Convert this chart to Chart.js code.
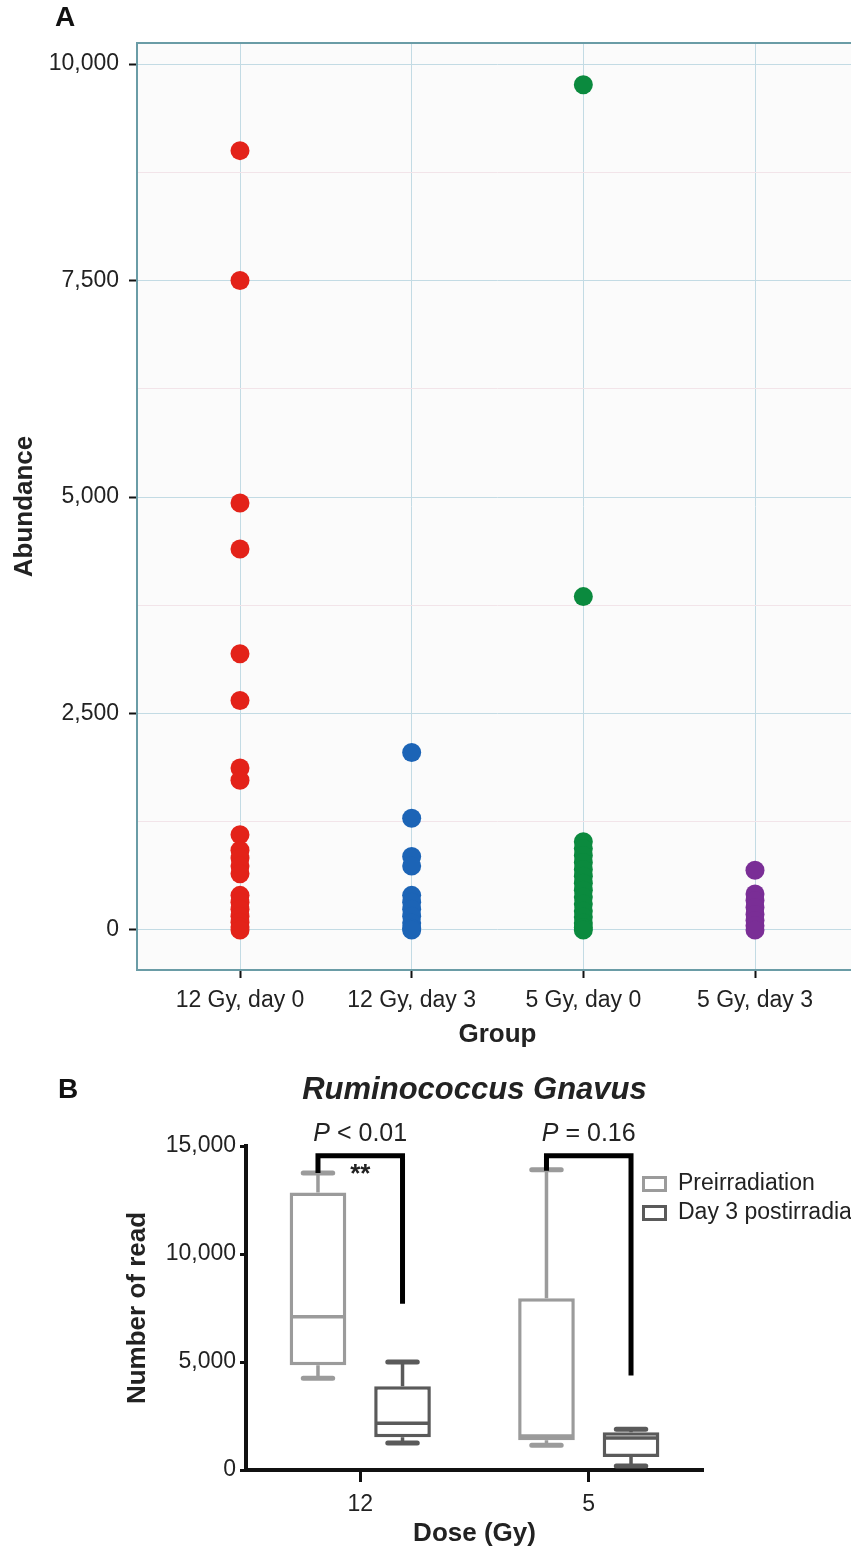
<!DOCTYPE html>
<html>
<head>
<meta charset="utf-8">
<title>Abundance by group / Ruminococcus Gnavus</title>
<script src="https://cdn.jsdelivr.net/npm/chart.js@4.4.1/dist/chart.umd.min.js"></script>
<style>
    html, body { margin: 0; padding: 0; background: #fff; overflow: hidden; }
    #page { position: relative; width: 851px; height: 1552px; overflow: hidden; background: #fff; }
    #panelA { position: absolute; left: 0; top: 0; }
    #panelB { position: absolute; left: 0; top: 1060px; }
</style>
</head>
<body>
<div id="page">
    <canvas id="panelA" width="880" height="1060"></canvas>
    <canvas id="panelB" width="851" height="492"></canvas>
</div>
<script>
// Panel A: abundance per group
const groups = ['12 Gy, day 0', '12 Gy, day 3', '5 Gy, day 0', '5 Gy, day 3'];
const abundance12Day0 = [9000, 7500, 4930, 4400, 3190, 2650, 1870, 1730, 1100, 920, 830, 740, 650, 400, 320, 240, 160, 90, 35, 0];
const abundance12Day3 = [2050, 1290, 850, 740, 400, 320, 240, 160, 80, 20, 0];
const abundance5Day0 = [9760, 3850, 1020, 940, 860, 780, 700, 620, 540, 460, 380, 300, 220, 150, 80, 30, 0];
const abundance5Day3 = [690, 415, 340, 260, 180, 110, 50, 0];
const abundanceTicks = [0, 2500, 5000, 7500, 10000];
const abundanceMinorTicks = [1250, 3750, 6250, 8750];

// Panel B: Ruminococcus gnavus read counts (box plots)
const doses = ['12', '5'];
const preMin = [4250, 1150];
const preQ1 = [4850, 1380];
const preMedian = [7100, 1570];
const preQ3 = [12850, 7950];
const preMax = [13750, 13900];
const postMin = [1250, 190];
const postQ1 = [1520, 600];
const postMedian = [2170, 1480];
const postQ3 = [3880, 1750];
const postMax = [5000, 1890];
const readTicks = [0, 5000, 10000, 15000];
const pLabels = [['P', ' < 0.01'], ['P', ' = 0.16']];
const stars = ['**', ''];
const bracketTop = [14550, 14550];
const bracketLeftEnd = [13750, 13850];
const bracketRightEnd = [7700, 4380];

Chart.defaults.font.family = '"Liberation Sans", Arial, Helvetica, sans-serif';
Chart.defaults.color = '#222';
Chart.defaults.animation = false;

const FONT = '"Liberation Sans", Arial, Helvetica, sans-serif';
const groupColors = ['#e32219', '#1c64b6', '#0b8a3e', '#7a2e96'];

// letter in the top-left corner of a panel
function panelLetter(letter, x, y) {
    return {
        id: 'panelLetter' + letter,
        afterDraw(chart) {
            const ctx = chart.ctx;
            ctx.save();
            ctx.font = 'bold 28px ' + FONT;
            ctx.fillStyle = '#111';
            ctx.textAlign = 'left';
            ctx.textBaseline = 'middle';
            ctx.fillText(letter, x, y);
            ctx.restore();
        }
    };
}

function renderPanelA() {
    const plotFrame = {
        id: 'plotFrame',
        beforeDraw(chart) {
            const {ctx, chartArea: a} = chart;
            ctx.save();
            ctx.fillStyle = '#fbfbfb';
            ctx.fillRect(a.left, a.top, a.right - a.left, a.bottom - a.top);
            ctx.restore();
        },
        afterDraw(chart) {
            const {ctx, chartArea: a} = chart;
            ctx.save();
            ctx.strokeStyle = '#6a9ca6';
            ctx.lineWidth = 2;
            ctx.strokeRect(a.left, a.top, a.right - a.left, a.bottom - a.top);
            ctx.restore();
        }
    };

    const series = [abundance12Day0, abundance12Day3, abundance5Day0, abundance5Day3];
    const isMajor = v => abundanceTicks.includes(v);

    new Chart(document.getElementById('panelA'), {
        type: 'scatter',
        data: {
            datasets: series.map((vals, i) => ({
                label: groups[i],
                data: vals.map(v => ({x: i, y: v})),
                backgroundColor: groupColors[i],
                borderWidth: 0,
                pointRadius: 9.5,
                pointHoverRadius: 9.5
            }))
        },
        options: {
            responsive: false,
            layout: {padding: {top: 43, right: 22, left: 0, bottom: 0}},
            plugins: {legend: {display: false}, tooltip: {enabled: false}},
            scales: {
                x: {
                    type: 'linear',
                    min: -0.6,
                    max: 3.6,
                    afterBuildTicks: s => { s.ticks = groups.map((g, i) => ({value: i})); },
                    afterFit: s => { s.height = 90; },
                    ticks: {
                        callback: v => groups[v],
                        font: {size: 23},
                        color: '#222',
                        padding: 9,
                        maxRotation: 0,
                        autoSkip: false
                    },
                    grid: {color: '#c3dbe4', lineWidth: 1, tickLength: 8, tickColor: '#111', tickWidth: 2},
                    border: {display: false},
                    title: {display: true, text: 'Group', font: {size: 26, weight: 'bold'}, color: '#222', padding: {bottom: 10}}
                },
                y: {
                    min: -462,
                    max: 10243,
                    afterBuildTicks: s => {
                        s.ticks = abundanceTicks.concat(abundanceMinorTicks).sort((a, b) => a - b).map(v => ({value: v}));
                    },
                    afterFit: s => { s.width = 137; },
                    ticks: {
                        callback: v => isMajor(v) ? v.toLocaleString('en-US') : '',
                        font: {size: 23},
                        color: '#222',
                        padding: 10
                    },
                    grid: {
                        color: c => isMajor(c.tick && c.tick.value) ? '#c3dbe4' : '#f2e4e9',
                        lineWidth: 1,
                        tickLength: 8,
                        tickWidth: 2,
                        tickColor: c => isMajor(c.tick && c.tick.value) ? '#111' : 'rgba(0,0,0,0)'
                    },
                    border: {display: false},
                    title: {display: true, text: 'Abundance', font: {size: 26, weight: 'bold'}, color: '#222', padding: {top: 9}}
                }
            }
        },
        plugins: [plotFrame, panelLetter('A', 55, 18)]
    });
}

function renderPanelB() {
    // whiskers and medians on top of the floating bars
    const boxParts = {
        id: 'boxParts',
        afterDatasetsDraw(chart) {
            const ctx = chart.ctx;
            const y = chart.scales.y;
            chart.data.datasets.forEach((ds, di) => {
                const meta = chart.getDatasetMeta(di);
                meta.data.forEach((bar, i) => {
                    const half = bar.width / 2;
                    const cap = bar.width * 0.26;
                    const yMed = y.getPixelForValue(ds.stats.median[i]);
                    const yQ1 = y.getPixelForValue(ds.stats.q1[i]);
                    const yQ3 = y.getPixelForValue(ds.stats.q3[i]);
                    const yMin = y.getPixelForValue(ds.stats.min[i]);
                    const yMax = y.getPixelForValue(ds.stats.max[i]);
                    ctx.save();
                    ctx.strokeStyle = ds.borderColor;
                    ctx.lineWidth = 3.5;
                    ctx.beginPath();
                    ctx.moveTo(bar.x - half + 2, yMed);
                    ctx.lineTo(bar.x + half - 2, yMed);
                    ctx.moveTo(bar.x, yQ3);
                    ctx.lineTo(bar.x, yMax);
                    ctx.moveTo(bar.x, yQ1);
                    ctx.lineTo(bar.x, yMin);
                    ctx.stroke();
                    ctx.lineWidth = 5;
                    ctx.lineCap = 'round';
                    ctx.beginPath();
                    ctx.moveTo(bar.x - cap, yMax);
                    ctx.lineTo(bar.x + cap, yMax);
                    ctx.moveTo(bar.x - cap, yMin);
                    ctx.lineTo(bar.x + cap, yMin);
                    ctx.stroke();
                    ctx.restore();
                });
            });
        }
    };

    // significance brackets, P values and stars
    const brackets = {
        id: 'brackets',
        afterDatasetsDraw(chart) {
            const ctx = chart.ctx;
            const y = chart.scales.y;
            const pre = chart.getDatasetMeta(0).data;
            const post = chart.getDatasetMeta(1).data;
            doses.forEach((d, i) => {
                const x1 = pre[i].x, x2 = post[i].x;
                const yTop = y.getPixelForValue(bracketTop[i]);
                ctx.save();
                ctx.strokeStyle = '#000';
                ctx.lineWidth = 5;
                ctx.lineJoin = 'miter';
                ctx.beginPath();
                ctx.moveTo(x1, y.getPixelForValue(bracketLeftEnd[i]));
                ctx.lineTo(x1, yTop);
                ctx.lineTo(x2, yTop);
                ctx.lineTo(x2, y.getPixelForValue(bracketRightEnd[i]));
                ctx.stroke();

                // P value text, P in italics
                const [pItalic, pRest] = pLabels[i];
                const italicFont = 'italic 25px ' + FONT;
                const plainFont = '25px ' + FONT;
                ctx.font = italicFont;
                const w1 = ctx.measureText(pItalic).width;
                ctx.font = plainFont;
                const w2 = ctx.measureText(pRest).width;
                const startX = (x1 + x2) / 2 - (w1 + w2) / 2;
                ctx.fillStyle = '#222';
                ctx.textBaseline = 'middle';
                ctx.textAlign = 'left';
                ctx.font = italicFont;
                ctx.fillText(pItalic, startX, yTop - 22);
                ctx.font = plainFont;
                ctx.fillText(pRest, startX + w1, yTop - 22);

                if (stars[i]) {
                    ctx.font = 'bold 26px ' + FONT;
                    ctx.textAlign = 'center';
                    ctx.textBaseline = 'top';
                    ctx.fillText(stars[i], (x1 + x2) / 2, yTop + 6);
                }
                ctx.restore();
            });
        }
    };

    const boxLegend = {
        id: 'boxLegend',
        afterDraw(chart) {
            const ctx = chart.ctx;
            const a = chart.chartArea;
            const left = a.right - 61;
            ctx.save();
            chart.data.datasets.forEach((ds, i) => {
                const top = a.top + 30 + i * 29;
                ctx.strokeStyle = ds.borderColor;
                ctx.lineWidth = 3;
                ctx.strokeRect(left + 1.5, top + 1.5, 22, 13);
                ctx.fillStyle = '#222';
                ctx.font = '23px ' + FONT;
                ctx.textAlign = 'left';
                ctx.textBaseline = 'middle';
                ctx.fillText(ds.label, left + 36, top + 8);
            });
            ctx.restore();
        }
    };

    const speciesTitle = {
        id: 'speciesTitle',
        afterDraw(chart) {
            const ctx = chart.ctx;
            const a = chart.chartArea;
            ctx.save();
            ctx.font = 'italic bold 31px ' + FONT;
            ctx.fillStyle = '#222';
            ctx.textAlign = 'center';
            ctx.textBaseline = 'middle';
            ctx.fillText('Ruminococcus Gnavus', (a.left + a.right) / 2, 30);
            ctx.restore();
        }
    };

    new Chart(document.getElementById('panelB'), {
        type: 'bar',
        data: {
            labels: doses,
            datasets: [
                {
                    label: 'Preirradiation',
                    data: doses.map((d, i) => [preQ1[i], preQ3[i]]),
                    stats: {min: preMin, q1: preQ1, median: preMedian, q3: preQ3, max: preMax},
                    backgroundColor: '#ffffff',
                    borderColor: '#9b9b9b',
                    borderWidth: 3.5,
                    borderSkipped: false
                },
                {
                    label: 'Day 3 postirradiation',
                    data: doses.map((d, i) => [postQ1[i], postQ3[i]]),
                    stats: {min: postMin, q1: postQ1, median: postMedian, q3: postQ3, max: postMax},
                    backgroundColor: '#ffffff',
                    borderColor: '#5a5a5a',
                    borderWidth: 3.5,
                    borderSkipped: false
                }
            ]
        },
        options: {
            responsive: false,
            categoryPercentage: 0.74,
            barPercentage: 0.67,
            layout: {padding: {top: 86, right: 148, left: 112, bottom: 0}},
            plugins: {legend: {display: false}, tooltip: {enabled: false}},
            scales: {
                x: {
                    afterFit: s => { s.height = 82; },
                    ticks: {font: {size: 23}, color: '#222', padding: 9},
                    grid: {offset: false, drawOnChartArea: false, tickLength: 12, tickWidth: 3, tickColor: '#111'},
                    border: {color: '#111', width: 4},
                    title: {display: true, text: 'Dose (Gy)', font: {size: 26, weight: 'bold'}, color: '#222', padding: {bottom: 3}}
                },
                y: {
                    min: 0,
                    max: 15000,
                    afterBuildTicks: s => { s.ticks = readTicks.map(v => ({value: v})); },
                    afterFit: s => { s.width = 134; },
                    ticks: {callback: v => v.toLocaleString('en-US'), font: {size: 23}, color: '#222', padding: 4},
                    grid: {drawOnChartArea: false, tickLength: 6, tickWidth: 3, tickColor: '#111'},
                    border: {color: '#111', width: 4},
                    title: {display: true, text: 'Number of read', font: {size: 26, weight: 'bold'}, color: '#222', padding: {top: 10}}
                }
            }
        },
        plugins: [boxParts, brackets, boxLegend, speciesTitle, panelLetter('B', 58, 30)]
    });
}

renderPanelA();
renderPanelB();
</script>
</body>
</html>
